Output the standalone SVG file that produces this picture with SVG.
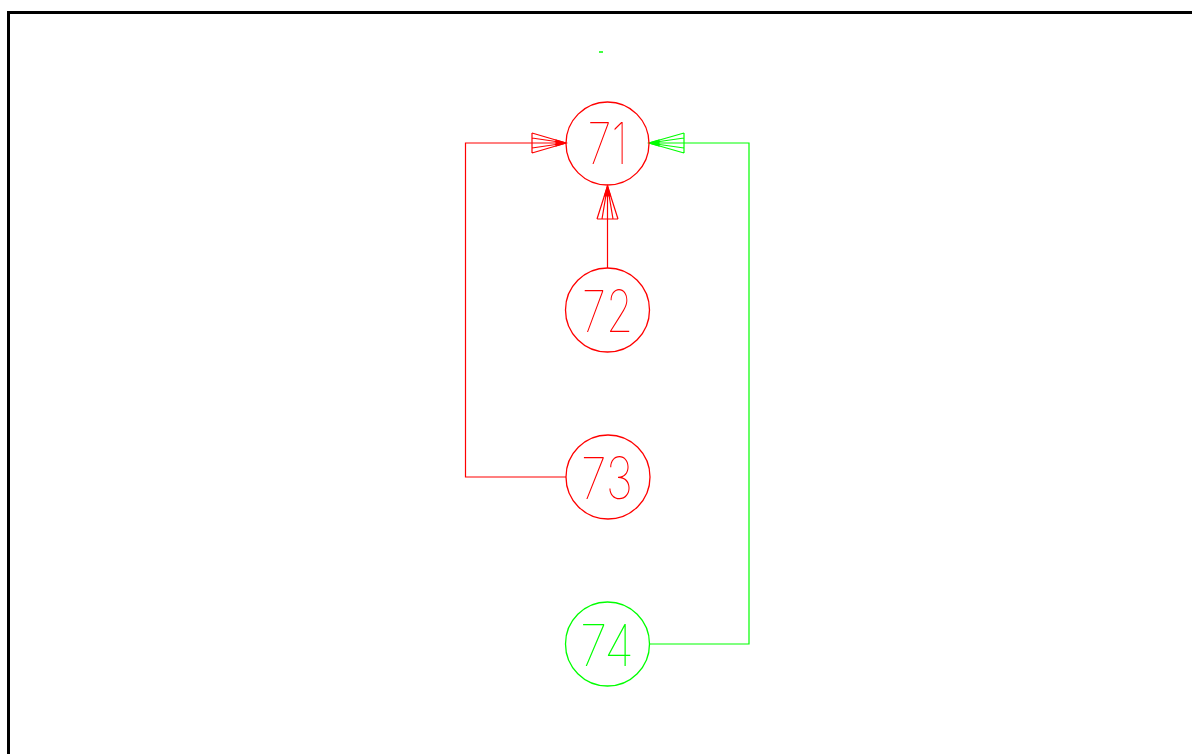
<svg xmlns="http://www.w3.org/2000/svg" width="1192" height="754" viewBox="0 0 1192 754">
<style>
.red{stroke:#ff0000;fill:none;stroke-width:1.2}
.grn{stroke:#00ff00;fill:none;stroke-width:1.2}
.node{stroke-width:1.3;fill:none}
.lbl{font-family:"DejaVu Sans ExtraLight","Inter","Liberation Sans",sans-serif;font-weight:100;font-size:58px;text-anchor:middle}
</style>
<rect width="1192" height="754" fill="#ffffff"/>
<path d="M8.5,754 V12.5 H1192" stroke="#000" stroke-width="3" fill="none"/>
<line x1="599" y1="52" x2="603" y2="52" stroke="#00ff00" stroke-width="1.5"/>
<g id="connectors">
  <g id="e73-71" class="red">
    <polyline points="566,477 465.5,477 465.5,143 566,143"/>
    <path d="M532,133 V153 M532,133 L566,143 M532,138 L566,143 M532,148 L566,143 M532,153 L566,143"/>
    <path d="M556,140 L566,143 L556,146 Z" fill="#ff0000"/>
  </g>
  <g id="e72-71" class="red">
    <line x1="607.5" y1="268" x2="607.5" y2="186"/>
    <path d="M597,219 H618 M597,219 L607.5,186 M602,219 L607.5,186 M613,219 L607.5,186 M618,219 L607.5,186"/>
    <path d="M604.5,196 L607.5,186 L610.5,196 Z" fill="#ff0000"/>
  </g>
  <g id="e74-71" class="grn">
    <polyline points="649,644 749,644 749,143 649,143"/>
    <path d="M684,133 V153 M684,133 L649,143 M684,138 L649,143 M684,148 L649,143 M684,153 L649,143"/>
    <path d="M659,140 L649,143 L659,146 Z" fill="#00ff00"/>
  </g>
</g>
<g id="n71">
  <circle cx="607.5" cy="143.5" r="41.5" class="node" stroke="#ff0000"/>
  <text x="607.5" y="164" class="lbl" fill="#ff0000" textLength="40" lengthAdjust="spacingAndGlyphs">71</text>
</g>
<g id="n72">
  <circle cx="607.5" cy="310" r="42" class="node" stroke="#ff0000"/>
  <text x="607.5" y="332" class="lbl" fill="#ff0000" textLength="51" lengthAdjust="spacingAndGlyphs">72</text>
</g>
<g id="n73">
  <circle cx="608" cy="477" r="42" class="node" stroke="#ff0000"/>
  <text x="607" y="499" class="lbl" fill="#ff0000" textLength="52" lengthAdjust="spacingAndGlyphs">73</text>
</g>
<g id="n74">
  <circle cx="607.5" cy="644" r="42" class="node" stroke="#00ff00"/>
  <text x="607" y="666" class="lbl" fill="#00ff00" textLength="54" lengthAdjust="spacingAndGlyphs">74</text>
</g>
</svg>
